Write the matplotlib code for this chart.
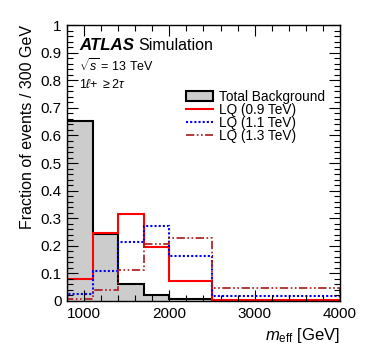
import matplotlib
matplotlib.use("Agg")
import matplotlib.pyplot as plt
from matplotlib.patches import Patch
from matplotlib.lines import Line2D
from matplotlib.ticker import MultipleLocator, FixedLocator
import numpy as np

plt.rcParams['font.family'] = ['Liberation Sans', 'DejaVu Sans']
plt.rcParams['mathtext.fontset'] = 'custom'
plt.rcParams['mathtext.rm'] = 'Liberation Sans'
plt.rcParams['mathtext.it'] = 'Liberation Sans:italic'

bin_edges = [800, 1100, 1400, 1700, 2000, 2500, 4000]
background = [0.653, 0.243, 0.063, 0.023, 0.006, 0.001]
lq_09 = [0.078, 0.245, 0.315, 0.196, 0.074, 0.005]
lq_11 = [0.024, 0.109, 0.214, 0.271, 0.162, 0.017]
lq_13 = [0.009, 0.039, 0.111, 0.208, 0.229, 0.047]
legend_labels = ["Total Background", "LQ (0.9 TeV)", "LQ (1.1 TeV)", "LQ (1.3 TeV)"]

fig = plt.figure(figsize=(3.74, 3.59), dpi=100)
ax = fig.add_axes([0.179, 0.1616, 0.730, 0.7684])

ax.stairs(background, bin_edges, fill=True, facecolor='#cccccc', edgecolor='none')
ax.stairs(background, bin_edges, color='black', linewidth=1.5)
ax.stairs(lq_09, bin_edges, color='#ff0000', linewidth=1.5)
ax.stairs(lq_11, bin_edges, color='#0000ff', linewidth=1.5, linestyle=(0, (1, 1)))
ax.stairs(lq_13, bin_edges, color='#a81818', linewidth=1.2, linestyle=(0, (5, 1.5, 1, 1.5, 1, 1.5)))

ax.set_xlim(800, 4000)
ax.set_ylim(0, 1)
ax.xaxis.set_major_locator(FixedLocator([1000, 2000, 3000, 4000]))
ax.xaxis.set_minor_locator(MultipleLocator(200))
ax.yaxis.set_major_locator(MultipleLocator(0.1))
ax.yaxis.set_minor_locator(MultipleLocator(0.02))
ax.set_yticks(np.arange(0, 1.01, 0.1))
ax.set_yticklabels(['0', '0.1', '0.2', '0.3', '0.4', '0.5', '0.6', '0.7', '0.8', '0.9', '1'])
ax.tick_params(which='both', direction='in', top=True, right=True, labelsize=11, pad=4)
ax.tick_params(which='major', length=8, width=0.8)
ax.tick_params(which='minor', length=4, width=0.8)
for s in ax.spines.values():
    s.set_linewidth(1.0)

ax.set_ylabel("Fraction of events / 300 GeV", fontsize=11.5, loc='top')
ax.set_xlabel(r"$m_{\rm eff}$ [GeV]", fontsize=12, loc='right')

ax.text(0.047, 0.925, "ATLAS", transform=ax.transAxes, fontsize=12.2,
        fontweight='bold', fontstyle='italic', va='center')
ax.text(0.262, 0.925, "Simulation", transform=ax.transAxes, fontsize=11.5, va='center')
ax.text(0.045, 0.855, r"$\sqrt{s}$ = 13 TeV", transform=ax.transAxes, fontsize=9, va='center')
ax.text(0.045, 0.785, r"1$\ell$+ $\geq$2$\tau$", transform=ax.transAxes, fontsize=9, va='center')

handles = [
    Patch(facecolor='#cccccc', edgecolor='black', linewidth=1.5),
    Line2D([], [], color='#ff0000', linewidth=1.5),
    Line2D([], [], color='#0000ff', linewidth=1.5, linestyle=(0, (1, 1))),
    Line2D([], [], color='#a81818', linewidth=1.2, linestyle=(0, (5, 1.5, 1, 1.5, 1, 1.5))),
]
ax.legend(handles, legend_labels, loc='upper left', bbox_to_anchor=(0.41, 0.79),
          frameon=False, fontsize=9.8, handlelength=2.0, handleheight=0.7,
          labelspacing=-0.08, borderpad=0, handletextpad=0.45)

fig.savefig("out.png", dpi=100)
